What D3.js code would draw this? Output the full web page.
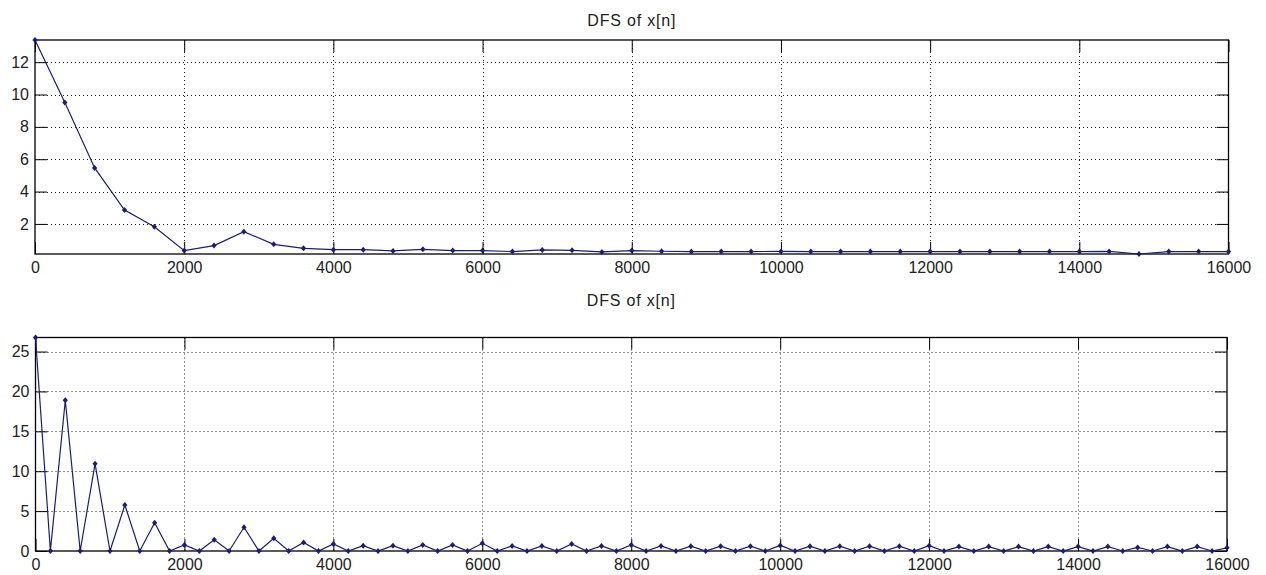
<!DOCTYPE html>
<html><head><meta charset="utf-8">
<script src="https://cdn.jsdelivr.net/npm/d3@7"></script>
<style>
body{margin:0;background:#fff;}
svg{display:block;}
text{font-family:Arial,"Liberation Sans",sans-serif;fill:#222;}
</style></head>
<body><svg id="c" width="1266" height="575"></svg>
<script>
// ---- data ----
const titleText = "DFS of x[n]";
const topFreq = [0,400,800,1200,1600,2000,2400,2800,3200,3600,4000,4400,4800,5200,5600,6000,6400,6800,7200,7600,8000,8400,8800,9200,9600,10000,10400,10800,11200,11600,12000,12400,12800,13200,13600,14000,14400,14800,15200,15600,16000];
const topMag = [13.37,9.50,5.46,2.86,1.83,0.35,0.66,1.52,0.74,0.49,0.41,0.41,0.33,0.43,0.35,0.35,0.29,0.39,0.37,0.27,0.35,0.31,0.29,0.29,0.29,0.30,0.29,0.29,0.29,0.29,0.29,0.29,0.29,0.29,0.29,0.29,0.30,0.14,0.29,0.29,0.29];
const botFreq = [0,200,400,600,800,1000,1200,1400,1600,1800,2000,2200,2400,2600,2800,3000,3200,3400,3600,3800,4000,4200,4400,4600,4800,5000,5200,5400,5600,5800,6000,6200,6400,6600,6800,7000,7200,7400,7600,7800,8000,8200,8400,8600,8800,9000,9200,9400,9600,9800,10000,10200,10400,10600,10800,11000,11200,11400,11600,11800,12000,12200,12400,12600,12800,13000,13200,13400,13600,13800,14000,14200,14400,14600,14800,15000,15200,15400,15600,15800,16000];
const botMag = [26.76,0,18.9,0,10.95,0,5.77,0,3.55,0,0.75,0,1.42,0,2.97,0,1.59,0,1.07,0,0.88,0,0.67,0,0.67,0,0.75,0,0.75,0,0.96,0,0.63,0,0.63,0,0.88,0,0.63,0,0.75,0,0.63,0,0.6,0,0.6,0,0.6,0,0.7,0,0.6,0,0.6,0,0.6,0,0.6,0,0.67,0,0.55,0,0.55,0,0.55,0,0.55,0,0.55,0,0.55,0,0.45,0,0.55,0,0.55,0,0.4];
const xTicks = [0,2000,4000,6000,8000,10000,12000,14000,16000];
const topYTicks = [2,4,6,8,10,12];
const botYTicks = [0,5,10,15,20,25];

const svg = d3.select("#c");
const lineColor = "#1b1b7a";

function panel(cfg){
  const {left,right,top,bottom,freq,mag,yDomain,yTicks,titleY} = cfg;
  const x = d3.scaleLinear().domain([0,16000]).range([left,right]);
  const y = d3.scaleLinear().domain(yDomain).range([bottom,top]);
  const g = svg.append("g");
  g.append("rect").attr("x",left).attr("y",top).attr("width",right-left).attr("height",bottom-top).attr("fill","#fff");
  // grid
  g.selectAll(".gx").data(xTicks.filter(t=>t>0&&t<16000)).join("line")
    .attr("x1",d=>Math.round(x(d))+0.5).attr("x2",d=>Math.round(x(d))+0.5).attr("y1",top).attr("y2",bottom)
    .attr("stroke","#222").attr("stroke-width",1).attr("stroke-dasharray","1,3");
  g.selectAll(".gy").data(yTicks.filter(t=>t>yDomain[0])).join("line")
    .attr("x1",left).attr("x2",right).attr("y1",d=>Math.round(y(d))+0.5).attr("y2",d=>Math.round(y(d))+0.5)
    .attr("stroke","#222").attr("stroke-width",1).attr("stroke-dasharray","1,3");
  // axes with inner ticks
  const tl = 12;
  const axB = d3.axisBottom(x).tickValues(xTicks).tickSizeInner(-tl).tickSizeOuter(0).tickPadding(8).tickFormat(d3.format("d"));
  const axT = d3.axisTop(x).tickValues(xTicks).tickSizeInner(-tl).tickSizeOuter(0).tickFormat("");
  const axL = d3.axisLeft(y).tickValues(yTicks).tickSizeInner(-tl).tickSizeOuter(0).tickPadding(6).tickFormat(d3.format("d"));
  const axR = d3.axisRight(y).tickValues(yTicks).tickSizeInner(-tl).tickSizeOuter(0).tickFormat("");
  const ga = [
    g.append("g").attr("transform",`translate(0,${bottom})`).call(axB),
    g.append("g").attr("transform",`translate(0,${top})`).call(axT),
    g.append("g").attr("transform",`translate(${left},0)`).call(axL),
    g.append("g").attr("transform",`translate(${right},0)`).call(axR)
  ];
  ga.forEach(a=>{
    a.select(".domain").remove();
    a.selectAll("line").attr("stroke","#000");
    a.selectAll("text").attr("font-size","16px").attr("fill","#222").attr("font-family","Arial, 'Liberation Sans', sans-serif");
  });
  // box
  g.append("rect").attr("x",left).attr("y",top).attr("width",right-left).attr("height",bottom-top)
    .attr("fill","none").attr("stroke","#000").attr("stroke-width",1.3);
  // line
  const pts = freq.map((f,i)=>[f,mag[i]]);
  g.append("path").datum(pts)
    .attr("d",d3.line().x(d=>x(d[0])).y(d=>y(d[1])))
    .attr("fill","none").attr("stroke",lineColor).attr("stroke-width",1.2);
  g.selectAll(".m").data(pts).join("path")
    .attr("transform",d=>`translate(${x(d[0])},${y(d[1])})`)
    .attr("d","M0,-3L2.6,0L0,3L-2.6,0Z").attr("fill",lineColor);
  // title
  g.append("text").attr("x",(left+right)/2).attr("y",titleY).attr("text-anchor","middle")
    .attr("font-size","16px").attr("letter-spacing","0.8px").text(titleText);
}

panel({left:35,right:1228.5,top:40,bottom:254,freq:topFreq,mag:topMag,yDomain:[0.14,13.37],yTicks:topYTicks,titleY:26});
panel({left:35.5,right:1227,top:337.5,bottom:551,freq:botFreq,mag:botMag,yDomain:[0,26.76],yTicks:botYTicks,titleY:306});
</script></body></html>
